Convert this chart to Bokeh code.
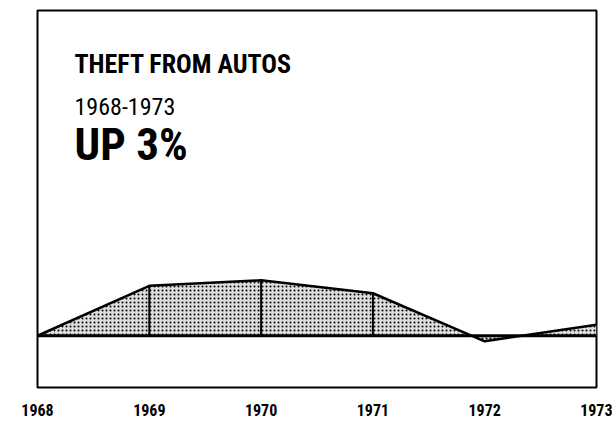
from bokeh.plotting import figure
from bokeh.models import Span, Label, FixedTicker, Range1d
from bokeh.embed import file_html
from bokeh.resources import INLINE

# Data: percent change in theft from autos relative to 1968
years = [1968, 1969, 1970, 1971, 1972, 1973]
pct_change = [0, 13.5, 15, 11.5, -1.5, 3]
tick_labels = {1968: "1968", 1969: "1969", 1970: "1970", 1971: "1971", 1972: "1972", 1973: "1973"}
title_text = "THEFT FROM AUTOS"
subtitle_text = "1968-1973"
headline_text = "UP 3%"

COND = "'Roboto Condensed', 'Liberation Sans', sans-serif"

p = figure(width=612, height=422, output_backend="svg", toolbar_location=None,
           y_axis_location=None, x_range=Range1d(1968, 1973), y_range=Range1d(-14, 88),
           min_border_left=37, min_border_right=16, min_border_top=10, min_border_bottom=35)
p.background_fill_color = "white"
p.border_fill_color = "white"
p.outline_line_color = "black"
p.outline_line_width = 2
p.xgrid.visible = False
p.ygrid.visible = False

# shaded area between baseline and curve
p.varea(x=years, y1=[0] * len(years), y2=pct_change, fill_color="#dcdcdc",
        hatch_pattern="dot", hatch_color="black", hatch_scale=4, hatch_weight=2.2)

# vertical dividers at interior years
inner = slice(1, 4)
p.segment(x0=years[inner], y0=[0] * 3, x1=years[inner], y1=pct_change[inner],
          line_color="black", line_width=2)

p.line(years, pct_change, line_color="black", line_width=2.5)

p.add_layout(Span(location=0, dimension="width", line_color="black", line_width=3))

ax = p.xaxis[0]
ax.ticker = FixedTicker(ticks=years)
ax.major_label_overrides = tick_labels
ax.axis_line_color = None
ax.major_tick_line_color = None
ax.minor_tick_line_color = None
ax.major_tick_out = 0
ax.major_label_standoff = 16
ax.major_label_text_font = COND
ax.major_label_text_font_style = "bold"
ax.major_label_text_font_size = "16px"
ax.major_label_text_color = "black"

p.add_layout(Label(x=37, y=324, x_units="screen", y_units="screen", text=title_text,
                   text_font=COND, text_font_size="26px", text_font_style="bold",
                   text_color="black", text_baseline="alphabetic"))
p.add_layout(Label(x=37, y=281, x_units="screen", y_units="screen", text=subtitle_text,
                   text_font=COND, text_font_size="24px", text_color="black",
                   text_baseline="alphabetic"))
p.add_layout(Label(x=37, y=243, x_units="screen", y_units="screen", text=headline_text,
                   text_font=COND, text_font_size="45px", text_font_style="bold",
                   text_color="black", text_baseline="alphabetic"))

open("out.html", "w").write(file_html(p, INLINE))
